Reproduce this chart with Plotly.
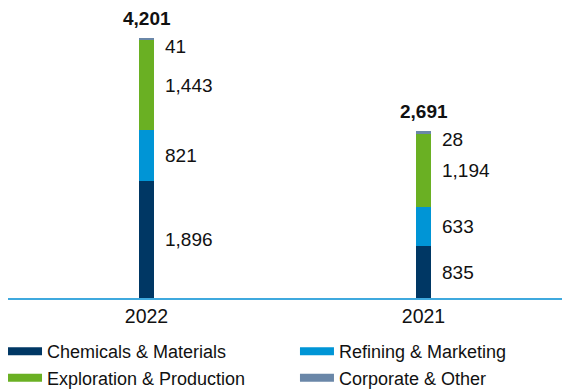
import plotly.graph_objects as go

years = ["2022", "2021"]
segments = ["Chemicals & Materials", "Refining & Marketing", "Exploration & Production", "Corporate & Other"]
chemicals = [1896, 835]
refining = [821, 633]
exploration = [1443, 1194]
corporate = [41, 28]
totals = [4201, 2691]
colors = ["#003764", "#0095D6", "#6AB023", "#6A87A8"]
legend_column = ["legend", "legend2", "legend", "legend2"]

series = [chemicals, refining, exploration, corporate]
FONT = "Arial, Liberation Sans, sans-serif"

fig = go.Figure()
for name, vals, col in zip(segments, series, colors):
    fig.add_trace(go.Bar(x=years, y=vals, name=name, marker=dict(color=col, line=dict(width=0)),
                         width=0.055, showlegend=False, hoverinfo="skip"))
# legend entries with wide swatches, two columns
for name, col, lg in zip(segments, colors, legend_column):
    fig.add_trace(go.Scatter(x=[None], y=[None], mode="lines", name=name, legend=lg,
                             line=dict(color=col, width=8)))

annotations = []
for i, yr in enumerate(years):
    base = 0
    for k, vals in enumerate(series):
        v = vals[i]
        mid = base + v / 2
        annotations.append(dict(x=i, y=mid, xref="x", yref="y", text=f"{v:,}", showarrow=False,
                                xanchor="left", xshift=16, yshift=-7 if k == 3 else 0,
                                font=dict(family=FONT, size=19, color="#111111")))
        base += v
    annotations.append(dict(x=i, y=totals[i], xref="x", yref="y", text=f"<b>{totals[i]:,}</b>",
                            showarrow=False, yanchor="bottom", yshift=7,
                            font=dict(family=FONT, size=19, color="#111111")))

leg_common = dict(orientation="v", yanchor="top", y=-0.118, xanchor="left",
                  traceorder="normal", font=dict(family=FONT, size=18, color="#111111"),
                  itemwidth=34, tracegroupgap=0, bgcolor="rgba(0,0,0,0)")

fig.update_layout(
    barmode="stack",
    width=564, height=389,
    margin=dict(l=8, r=2, t=0, b=91, autoexpand=False),
    paper_bgcolor="white", plot_bgcolor="white",
    font=dict(family=FONT, size=16, color="#222222"),
    xaxis=dict(type="category", range=[-0.5, 1.5], showgrid=False, showline=True,
               linecolor="#3FA9DE", linewidth=1.5, ticks="", tickfont=dict(size=19.5, color="#111111")),
    yaxis=dict(range=[0, 4814], visible=False, showgrid=False, zeroline=False),
    legend=dict(x=-0.009, **leg_common),
    legend2=dict(x=0.518, **leg_common),
    annotations=annotations,
    showlegend=True,
)
fig.write_html("out.html")
